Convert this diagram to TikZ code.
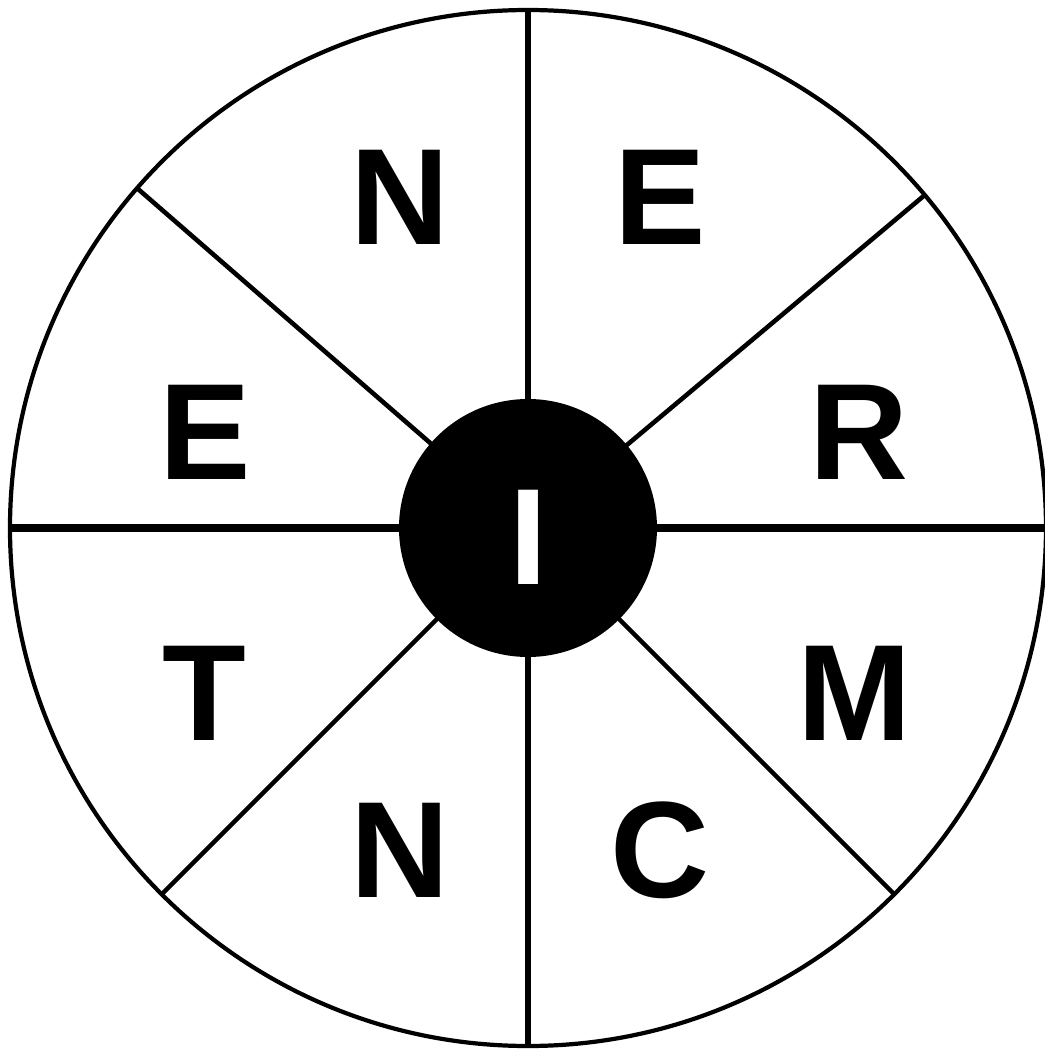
\documentclass[tikz,border=0pt]{standalone}
\usepackage{fontspec}
\setmainfont{Liberation Sans}
\usepackage{tikz}
\usetikzlibrary{positioning}

\newcommand{\wheelfont}{\fontsize{39}{39}\selectfont\bfseries}

\begin{document}
\begin{tikzpicture}[
  rimcircle/.style={draw, circle, line width=1.2pt, minimum size=10.36cm,
                    inner sep=0pt, outer sep=0pt},
  hubcircle/.style={circle, fill=black, minimum size=2.58cm, inner sep=0pt,
                    outer sep=0pt},
  spoke/.style={line width=1.3pt},
  axisspoke/.style={line width=2.2pt},
  uprightspoke/.style={line width=1.5pt},
  letter/.style={anchor=base, inner sep=0pt, font=\wheelfont}
]
\useasboundingbox (-5.28,-5.22) rectangle (5.17,5.28);

%% Wheel
\node[rimcircle] (rim) at (0,0) {};
\coordinate (c) at (0,0);

%% Spokes
\draw[axisspoke] (rim.180) -- (c);
\draw[axisspoke] (c) -- (rim.0);
\draw[uprightspoke] (c) -- (rim.90);
\draw[uprightspoke] (c) -- (rim.270);
\draw[spoke] (c) -- (rim.40.8);
\draw[spoke] (c) -- (rim.139.1);
\draw[spoke] (c) -- (rim.225.2);
\draw[spoke] (c) -- (rim.315);

%% Hub
\node[hubcircle] (hub) at (c) {};
\node[letter, text=white] (icenter) at (0.01,-0.56) {I};

%% Letters
\node[letter] (ntop)  at (-1.28, 2.83)  {N};
\node[letter] (etop)  at (1.32, 2.83)   {E};
\node[letter] (eleft) at (-3.225, 0.49) {E};
\node[letter] (rright) at (3.31, 0.49)  {R};
\node[letter] (tleft) at (-3.235,-2.12) {T};
\node[letter] (mright) at (3.265,-2.12) {M};
\node[letter] (nbot)  at (-1.28,-3.69)  {N};
\node[letter] (cbot)  at (1.32,-3.69)   {C};

\end{tikzpicture}
\end{document}
